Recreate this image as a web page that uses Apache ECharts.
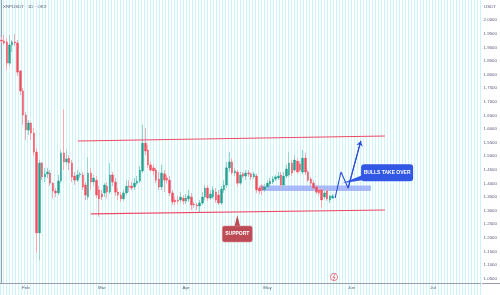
<!DOCTYPE html>
<html>
<head>
<meta charset="utf-8">
<title>XRPUSDT 1D</title>
<script src="https://cdn.jsdelivr.net/npm/echarts@6.0.0/dist/echarts.min.js"></script>
<style>
html,body{margin:0;padding:0;background:#fff;}
#wrap{position:relative;width:500px;height:295px;overflow:hidden;}
#stripes{position:absolute;left:0;top:0;width:482px;height:295px;
	background:repeating-linear-gradient(90deg,#cbf5f8 0px,#cbf5f8 1px,#ffffff 1px,#ffffff 3px);}
#chart{position:absolute;left:0;top:0;width:500px;height:295px;}
</style>
</head>
<body>
<div id="wrap"><div id="stripes"></div><div id="chart"></div></div>
<script>
// daily candles, first one is 23 Jan, axis runs on to mid July
var startDay='2023-01-23';
var dayCount=177;
var monthNames=['Jan','Feb','Mar','Apr','May','Jun','Jul','Aug','Sep','Oct','Nov','Dec'];

var opens=[
	1.927,1.923,1.920,1.842,1.909,1.920,1.916,1.813,1.740,1.651,
	1.596,1.622,1.585,1.515,1.218,1.475,1.424,1.435,1.438,1.401,
	1.372,1.365,1.409,1.512,1.479,1.493,1.475,1.427,1.412,1.431,
	1.431,1.394,1.350,1.438,1.405,1.412,1.376,1.361,1.365,1.390,
	1.368,1.431,1.405,1.368,1.357,1.343,1.365,1.390,1.390,1.387,
	1.401,1.409,1.446,1.548,1.523,1.468,1.457,1.449,1.416,1.387,
	1.435,1.420,1.412,1.365,1.339,1.339,1.339,1.346,1.335,1.343,
	1.350,1.324,1.321,1.317,1.328,1.350,1.383,1.346,1.350,1.368,
	1.357,1.328,1.376,1.394,1.457,1.479,1.438,1.442,1.401,1.435,
	1.427,1.438,1.435,1.424,1.427,1.383,1.390,1.376,1.387,1.398,
	1.405,1.416,1.420,1.431,1.394,1.427,1.431,1.475,1.449,1.482,
	1.471,1.442,1.493,1.442,1.416,1.401,1.387,1.376,1.376,1.350,
	1.372,1.339,1.346
];
var closes=[
	1.923,1.916,1.842,1.909,1.920,1.916,1.809,1.740,1.651,1.596,
	1.622,1.585,1.515,1.218,1.475,1.424,1.435,1.442,1.401,1.372,
	1.365,1.409,1.512,1.479,1.490,1.475,1.424,1.412,1.431,1.435,
	1.387,1.357,1.438,1.405,1.420,1.357,1.343,1.350,1.394,1.368,
	1.431,1.405,1.368,1.357,1.343,1.365,1.390,1.387,1.383,1.401,
	1.409,1.449,1.548,1.519,1.468,1.449,1.446,1.412,1.387,1.438,
	1.412,1.412,1.365,1.332,1.332,1.335,1.350,1.335,1.346,1.354,
	1.321,1.321,1.317,1.328,1.350,1.383,1.346,1.361,1.376,1.339,
	1.328,1.379,1.394,1.457,1.479,1.438,1.446,1.401,1.431,1.427,
	1.438,1.435,1.424,1.435,1.376,1.372,1.376,1.387,1.401,1.409,
	1.416,1.424,1.427,1.394,1.427,1.453,1.475,1.438,1.486,1.442,
	1.449,1.493,1.442,1.412,1.401,1.383,1.368,1.365,1.339,1.365,
	1.343,1.354,1.354
];
var lows=[
	1.916,1.909,1.817,1.831,1.883,1.905,1.795,1.725,1.615,1.559,
	1.578,1.559,1.501,1.144,1.118,1.412,1.405,1.420,1.390,1.346,
	1.350,1.357,1.401,1.449,1.471,1.449,1.405,1.394,1.405,1.420,
	1.376,1.339,1.339,1.376,1.390,1.346,1.277,1.339,1.350,1.346,
	1.361,1.390,1.354,1.339,1.332,1.335,1.357,1.368,1.376,1.376,
	1.394,1.401,1.438,1.504,1.457,1.442,1.431,1.401,1.376,1.376,
	1.368,1.401,1.354,1.321,1.321,1.324,1.328,1.321,1.324,1.332,
	1.302,1.310,1.302,1.295,1.321,1.339,1.335,1.339,1.343,1.328,
	1.321,1.321,1.365,1.383,1.442,1.431,1.427,1.390,1.394,1.420,
	1.412,1.424,1.412,1.416,1.365,1.361,1.357,1.368,1.376,1.390,
	1.398,1.409,1.412,1.383,1.387,1.420,1.424,1.427,1.442,1.435,
	1.442,1.435,1.431,1.405,1.390,1.376,1.361,1.354,1.310,1.343,
	1.335,1.328,1.343
];
var highs=[
	1.938,1.945,1.934,1.945,1.927,1.949,1.927,1.817,1.751,1.662,
	1.633,1.626,1.604,1.530,1.486,1.479,1.457,1.457,1.449,1.405,
	1.383,1.431,1.523,1.673,1.523,1.504,1.486,1.442,1.449,1.442,
	1.442,1.405,1.497,1.457,1.431,1.427,1.390,1.376,1.401,1.405,
	1.475,1.442,1.420,1.383,1.368,1.376,1.412,1.412,1.405,1.420,
	1.427,1.464,1.615,1.604,1.541,1.479,1.468,1.457,1.442,1.468,
	1.449,1.431,1.427,1.376,1.350,1.354,1.368,1.357,1.361,1.376,
	1.365,1.332,1.328,1.339,1.368,1.394,1.394,1.376,1.390,1.383,
	1.376,1.390,1.412,1.479,1.515,1.493,1.457,1.449,1.442,1.442,
	1.449,1.449,1.442,1.442,1.435,1.390,1.398,1.398,1.412,1.420,
	1.427,1.431,1.442,1.442,1.442,1.468,1.515,1.486,1.504,1.493,
	1.482,1.523,1.512,1.449,1.424,1.412,1.394,1.383,1.383,1.376,
	1.379,1.357,1.361
];

// drawings: x = candle index, y = price
var resistance=[[28.1,1.556],[141.3,1.574]];
var support=[[32.9,1.288],[141.3,1.302]];
var zone=[[95,1.392],[136.1,1.372]];
var projection=[[122.9,1.346],[125.1,1.442],[127.7,1.383],[132.4,1.556]];
var supportTip=[86.9,1.284];
var bullsTip=[125.5,1.401];

var dates=[];
var d0=new Date(startDay+'T00:00:00Z');
for(var i=0;i<dayCount;i++){
	dates.push(new Date(d0.getTime()+i*86400000).toISOString().slice(0,10));
}
var wickData=[],bodyData=[];
for(var i=0;i<opens.length;i++){
	wickData.push([opens[i],closes[i],lows[i],highs[i]]);
	bodyData.push([opens[i],closes[i],Math.min(opens[i],closes[i]),Math.max(opens[i],closes[i])]);
}
var lastClose=closes[closes.length-1];

var font='"Liberation Sans", Arial, sans-serif';
var txtColor='#565a78';
var upColor='#22a091',downColor='#ef4d5e';

var chart=echarts.init(document.getElementById('chart'),null,{renderer:'canvas'});
var option={
	animation:false,
	title:[
		{text:'XRPUSDT · 1D · OKX',left:3,top:5,padding:0,textStyle:{fontSize:4.4,color:txtColor,fontWeight:'normal',fontFamily:font}},
		{text:'USDT',right:4,top:5,padding:0,textStyle:{fontSize:4.4,color:txtColor,fontWeight:'normal',fontFamily:font}}
	],
	grid:{left:0,right:18,top:0,bottom:12},
	xAxis:[
		{type:'category',data:dates,boundaryGap:true,
			axisLine:{lineStyle:{color:'#9a9cab',width:1}},
			axisTick:{show:false},
			splitLine:{show:false},
			axisLabel:{
				interval:function(idx,v){return v.slice(8)=='01';},
				formatter:function(v){return monthNames[+v.slice(5,7)-1];},
				fontSize:4.4,color:txtColor,margin:3,fontFamily:font
			}
		},
		{type:'value',min:-0.5,max:dayCount-0.5,show:false}
	],
	yAxis:{type:'value',position:'right',min:1.034,max:2.074,splitNumber:20,
		axisLine:{show:true,lineStyle:{color:'#9a9cab',width:1}},
		axisTick:{show:false},
		splitLine:{show:false},
		axisLabel:{fontSize:4.4,color:txtColor,margin:3,fontFamily:font,
			formatter:function(v){
				if(v>2.001||v<1.04){return '';}
				return v.toFixed(4);
			}
		}
	},
	series:[
		{//wicks
			type:'candlestick',xAxisIndex:0,data:wickData,barWidth:0.5,silent:true,
			itemStyle:{color:'#93d4cc',color0:'#f6abb4',borderColor:'#93d4cc',borderColor0:'#f6abb4',borderWidth:1}
		},
		{//bodies
			type:'candlestick',xAxisIndex:0,data:bodyData,barWidth:2,silent:true,
			itemStyle:{color:upColor,color0:downColor,borderColor:upColor,borderColor0:downColor,borderWidth:0.4},
			markLine:{silent:true,symbol:'none',
				lineStyle:{opacity:0},
				label:{position:'end',distance:2,formatter:lastClose.toFixed(4),fontSize:4.4,fontFamily:font,
					color:'#23285a',backgroundColor:'#c8c9f2',padding:[1,2]},
				data:[{yAxis:lastClose}]
			}
		},
		{
			type:'line',xAxisIndex:1,data:resistance,symbol:'none',silent:true,
			lineStyle:{color:'#ee4a64',width:1.1},
			markArea:{silent:true,itemStyle:{color:'rgba(112,132,250,0.55)'},
				data:[[{coord:zone[0]},{coord:zone[1]}]]}
		},
		{
			type:'line',xAxisIndex:1,data:support,symbol:'none',silent:true,
			lineStyle:{color:'#ee4a64',width:1.1}
		},
		{
			type:'line',xAxisIndex:1,data:projection,symbol:'none',silent:true,z:5,
			lineStyle:{color:'#2d4fd6',width:1.1},
			markLine:{silent:true,symbol:['none','arrow'],symbolSize:5,
				lineStyle:{color:'#2d4fd6',width:1.1,type:'solid'},label:{show:false},
				data:[[{coord:projection[2]},{coord:projection[3]}]]}
		}
	]
};
chart.setOption(option);

// callouts, placed from the data coordinates of their tips
var sp=chart.convertToPixel({seriesIndex:2},supportTip);
var bp=chart.convertToPixel({seriesIndex:2},bullsTip);
var boxFont='bold 5px "Liberation Sans", Arial, sans-serif';
chart.setOption({graphic:[
	{type:'polygon',shape:{points:[[sp[0],sp[1]],[sp[0]-3,sp[1]+12],[sp[0]+3,sp[1]+12]]},style:{fill:'#bd4b55'},z:10},
	{type:'rect',shape:{x:sp[0]-15,y:sp[1]+11,width:30,height:16,r:2},style:{fill:'#bd4b55',stroke:'#d98a90',lineWidth:0.6},z:10},
	{type:'text',x:sp[0],y:sp[1]+19,style:{text:'SUPPORT',fill:'#ffffff',font:boxFont,align:'center',verticalAlign:'middle'},z:11},

	{type:'polygon',shape:{points:[[bp[0],bp[1]],[bp[0]+20,bp[1]-8],[bp[0]+20,bp[1]-3]]},style:{fill:'#3157e4'},z:10},
	{type:'rect',shape:{x:bp[0]+19,y:bp[1]-19,width:52,height:17,r:3},style:{fill:'#3157e4'},z:10},
	{type:'text',x:bp[0]+45,y:bp[1]-10.5,style:{text:'BULLS TAKE OVER',fill:'#ffffff',font:boxFont,align:'center',verticalAlign:'middle'},z:11},

	// axis line continues under the price scale
	{type:'line',shape:{x1:482,y1:283.5,x2:500,y2:283.5},style:{stroke:'#9a9cab',lineWidth:1}},
	// small event marker on the time axis
	{type:'circle',shape:{cx:334,cy:277,r:3.6},style:{fill:'#ffffff',stroke:'#d94a5e',lineWidth:0.7}},
	{type:'polyline',shape:{points:[[335,274],[332.9,277.4],[335,277.2],[333.2,280.2]]},style:{stroke:'#d94a5e',lineWidth:0.7,fill:null}}
]});
</script>
</body>
</html>
